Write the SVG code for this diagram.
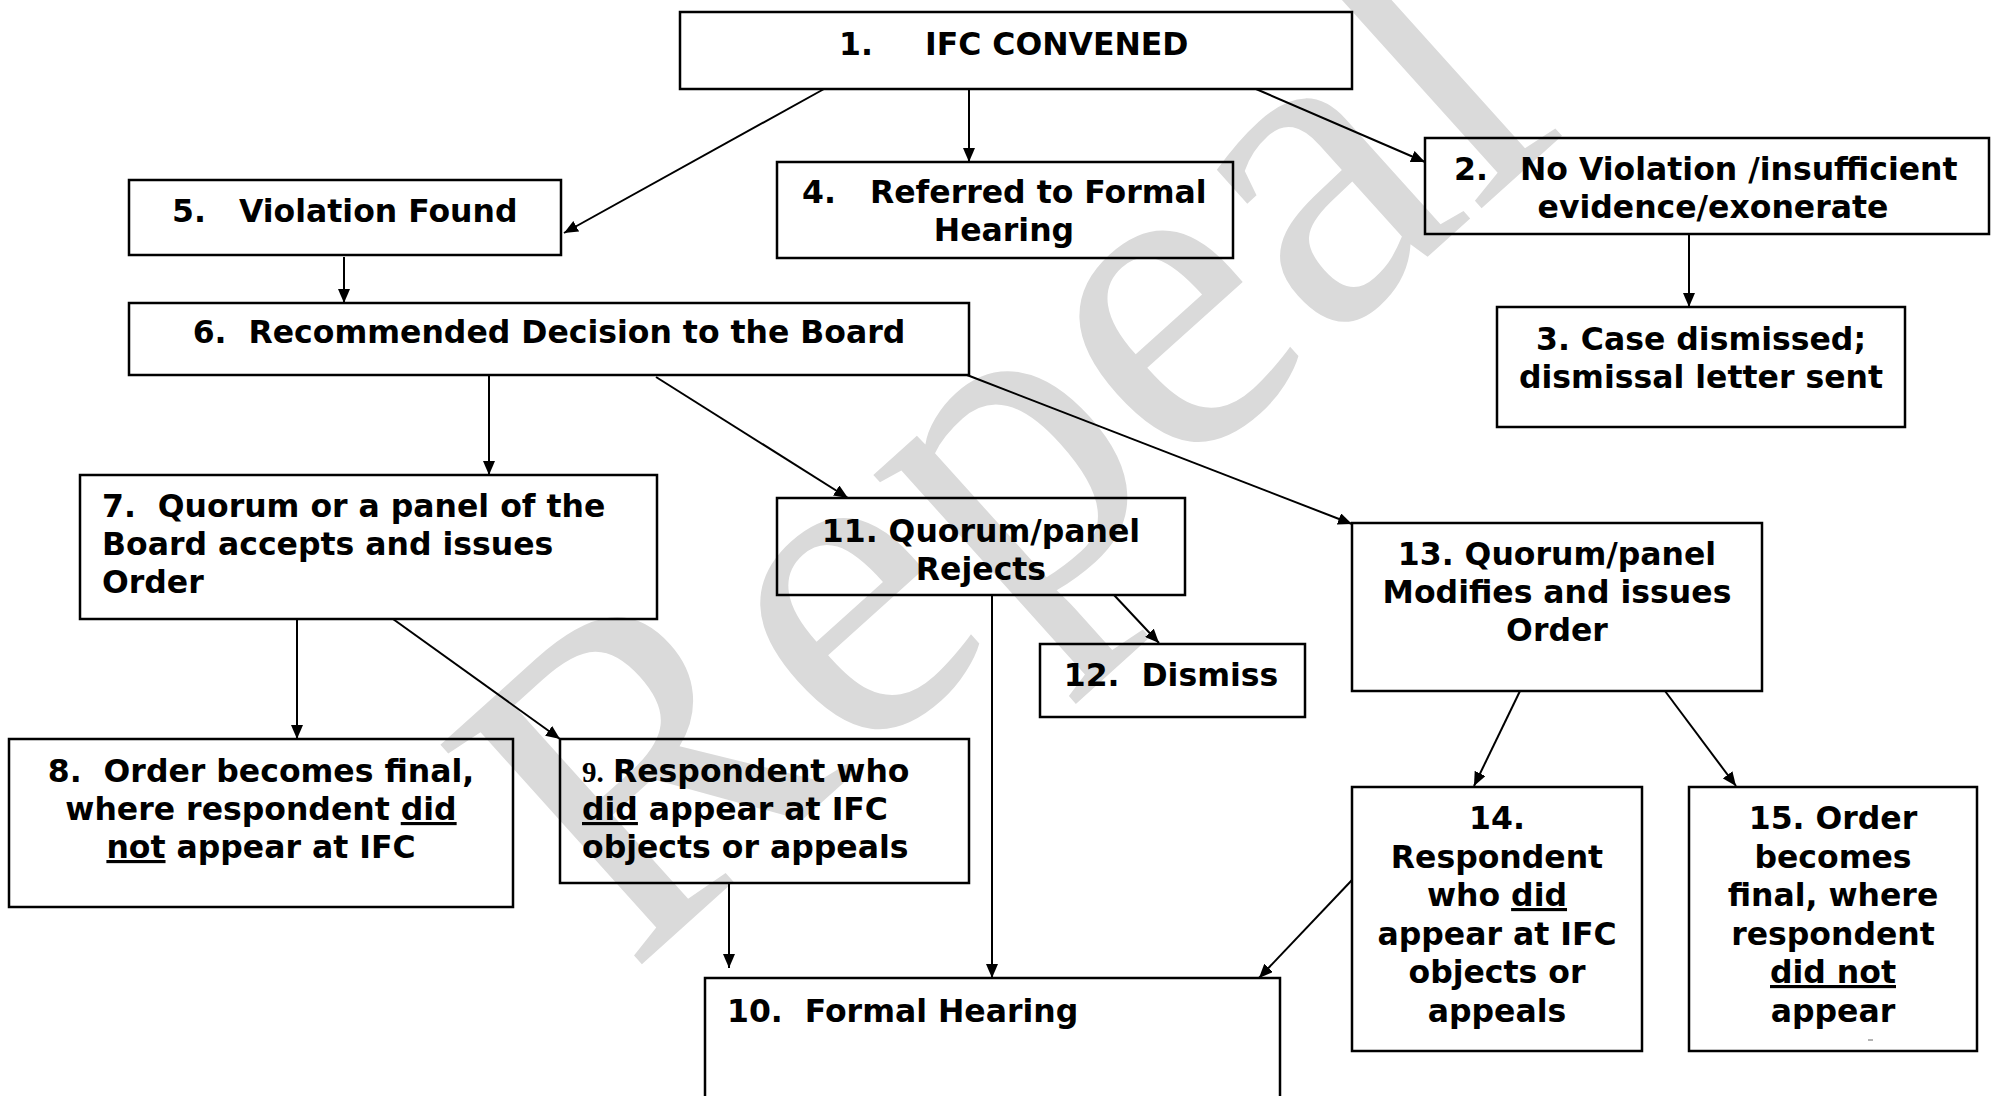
<svg xmlns="http://www.w3.org/2000/svg" width="1991" height="1096" viewBox="0 0 1991 1096">
<defs>
<style>
.box{fill:none;stroke:#000;stroke-width:2.5}
.t{font-family:"DejaVu Sans","Verdana",sans-serif;font-weight:bold;font-size:31.5px;fill:#000;white-space:pre}
.m{text-anchor:middle}
.s{font-family:"Liberation Serif","Times New Roman",serif;font-weight:bold;font-size:29px}
.u{text-decoration:underline}
.c{stroke:#000;stroke-width:2;fill:none;marker-end:url(#ah)}
.wm{font-family:"Liberation Serif","Times New Roman",serif;font-size:455px;fill:#dadada}
</style>
<marker id="ah" markerWidth="14" markerHeight="12" refX="14" refY="6" orient="auto" markerUnits="userSpaceOnUse">
<path d="M0,0 L14,6 L0,12 z" fill="#000"/>
</marker>
</defs>
<rect x="0" y="0" width="1991" height="1096" fill="#fff"/>
<g id="watermark">
<text class="wm" transform="translate(630,975) rotate(-42)">Repeal</text>
</g>
<g id="connectors">
<path class="c" d="M824,89 L564,233"/>
<path class="c" d="M969,89 L969,162"/>
<path class="c" d="M1256,89 L1425,162"/>
<path class="c" d="M1689,234 L1689,307"/>
<path class="c" d="M344,257 L344,303"/>
<path class="c" d="M489,375 L489,475"/>
<path class="c" d="M656,377 L848,498"/>
<path class="c" d="M967,375 L1352,524"/>
<path class="c" d="M297,619 L297,739"/>
<path class="c" d="M393,619 L560,739"/>
<path class="c" d="M1114,595 L1159,643"/>
<path class="c" d="M992,595 L992,978"/>
<path class="c" d="M729,883 L729,968"/>
<path class="c" d="M1520,691 L1474,786"/>
<path class="c" d="M1665,691 L1736,786"/>
<path class="c" d="M1352,880 L1259,978"/>
</g>
<g id="n1"><rect class="box" x="680" y="12" width="672" height="77"/>
<text class="t" y="55"><tspan x="839">1.</tspan><tspan x="925">IFC CONVENED</tspan></text></g>
<g id="n2"><rect class="box" x="1425" y="138" width="564" height="96"/>
<text class="t" y="180"><tspan x="1454">2.</tspan><tspan x="1520">No Violation /insufficient</tspan></text>
<text class="t m" x="1713" y="218">evidence/exonerate</text></g>
<g id="n3"><rect class="box" x="1497" y="307" width="408" height="120"/>
<text class="t m" x="1701" y="350">3. Case dismissed;</text>
<text class="t m" x="1701" y="388">dismissal letter sent</text></g>
<g id="n4"><rect class="box" x="777" y="162" width="456" height="96"/>
<text class="t" y="203"><tspan x="802">4.</tspan><tspan x="870">Referred to Formal</tspan></text>
<text class="t m" x="1004" y="241">Hearing</text></g>
<g id="n5"><rect class="box" x="129" y="180" width="432" height="75"/>
<text class="t" y="222"><tspan x="172">5.</tspan><tspan x="239">Violation Found</tspan></text></g>
<g id="n6"><rect class="box" x="129" y="303" width="840" height="72"/>
<text class="t m" x="549" y="343">6.  Recommended Decision to the Board</text></g>
<g id="n7"><rect class="box" x="80" y="475" width="577" height="144"/>
<text class="t" x="102" y="517">7.  Quorum or a panel of the</text>
<text class="t" x="102" y="555">Board accepts and issues</text>
<text class="t" x="102" y="593">Order</text></g>
<g id="n8"><rect class="box" x="9" y="739" width="504" height="168"/>
<text class="t m" x="261" y="782">8.  Order becomes final,</text>
<text class="t m" x="261" y="820">where respondent <tspan class="u">did</tspan></text>
<text class="t m" x="261" y="858"><tspan class="u">not</tspan> appear at IFC</text></g>
<g id="n9"><rect class="box" x="560" y="739" width="409" height="144"/>
<text class="t" y="782"><tspan class="s" x="582">9.</tspan><tspan x="613">Respondent who</tspan></text>
<text class="t" x="582" y="820"><tspan class="u">did</tspan> appear at IFC</text>
<text class="t" x="582" y="858">objects or appeals</text></g>
<g id="n10"><rect class="box" x="705" y="978" width="575" height="150"/>
<text class="t" x="727" y="1022">10.  Formal Hearing</text></g>
<g id="n11"><rect class="box" x="777" y="498" width="408" height="97"/>
<text class="t m" x="981" y="542">11. Quorum/panel</text>
<text class="t m" x="981" y="580">Rejects</text></g>
<g id="n12"><rect class="box" x="1040" y="644" width="265" height="73"/>
<text class="t m" x="1171" y="686">12.  Dismiss</text></g>
<g id="n13"><rect class="box" x="1352" y="523" width="410" height="168"/>
<text class="t m" x="1557" y="565">13. Quorum/panel</text>
<text class="t m" x="1557" y="603">Modifies and issues</text>
<text class="t m" x="1557" y="641">Order</text></g>
<g id="n14"><rect class="box" x="1352" y="787" width="290" height="264"/>
<text class="t m" x="1497" y="829">14.</text>
<text class="t m" x="1497" y="868">Respondent</text>
<text class="t m" x="1497" y="906">who <tspan class="u">did</tspan></text>
<text class="t m" x="1497" y="945">appear at IFC</text>
<text class="t m" x="1497" y="983">objects or</text>
<text class="t m" x="1497" y="1022">appeals</text></g>
<g id="n15"><rect class="box" x="1689" y="787" width="288" height="264"/>
<text class="t m" x="1833" y="829">15. Order</text>
<text class="t m" x="1833" y="868">becomes</text>
<text class="t m" x="1833" y="906">final, where</text>
<text class="t m" x="1833" y="945">respondent</text>
<text class="t m" x="1833" y="983"><tspan class="u">did not</tspan></text>
<text class="t m" x="1833" y="1022">appear</text>
<line x1="1868" y1="1040" x2="1873" y2="1040" stroke="#666" stroke-width="1"/></g>
</svg>
